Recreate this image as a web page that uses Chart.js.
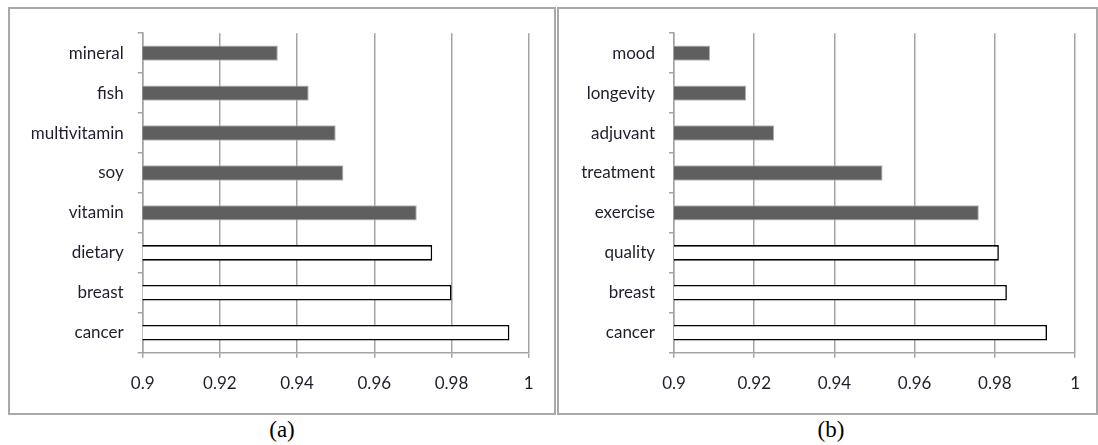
<!DOCTYPE html>
<html>
<head>
<meta charset="utf-8">
<script src="https://cdn.jsdelivr.net/npm/chart.js@4.4.1/dist/chart.umd.min.js"></script>
<style>
  html, body { margin: 0; padding: 0; background: #ffffff; }
  body { width: 1098px; height: 445px; position: relative; overflow: hidden; }
  .panel { position: absolute; box-sizing: border-box; border: 2px solid #a9a9a9; }
  .cv { position: absolute; }
  .cap { position: absolute; font-family: "Liberation Serif", "DejaVu Serif", serif; font-size: 23px; color: #000; transform: translateX(-50%); white-space: nowrap; }
</style>
</head>
<body>
<div class="panel" style="left:8px; top:7px; width:548px; height:408px;"></div>
<div class="panel" style="left:557px; top:7px; width:541px; height:408px;"></div>
<div class="cv" style="left:10px; top:9px; width:544px; height:404px;"><canvas id="chartA"></canvas></div>
<div class="cv" style="left:559px; top:9px; width:537px; height:404px;"><canvas id="chartB"></canvas></div>
<div class="cap" style="left:282px; top:417px;">(a)</div>
<div class="cap" style="left:831px; top:417px;">(b)</div>
<script>
// ---- data ----
const termsA = ['mineral', 'fish', 'multivitamin', 'soy', 'vitamin', 'dietary', 'breast', 'cancer'];
const expansionA = [0.935, 0.943, 0.950, 0.952, 0.971, null, null, null];
const queryA = [null, null, null, null, null, 0.975, 0.980, 0.995];

const termsB = ['mood', 'longevity', 'adjuvant', 'treatment', 'exercise', 'quality', 'breast', 'cancer'];
const expansionB = [0.909, 0.918, 0.925, 0.952, 0.976, null, null, null];
const queryB = [null, null, null, null, null, 0.981, 0.983, 0.993];

const xTicks = [0.9, 0.92, 0.94, 0.96, 0.98, 1];

const FONT = 'Lato, "Open Sans", sans-serif';
const GRID = '#a3a3a3';

function makeChart(id, labels, exp, qry, yWidth, pad) {
  new Chart(document.getElementById(id), {
    type: 'bar',
    data: {
      labels: labels,
      datasets: [
        { label: 'expansion', data: exp, backgroundColor: '#5f5f5f', borderColor: '#b4b4b4', borderWidth: 1, grouped: false, categoryPercentage: 1, barPercentage: 0.385 },
        { label: 'query', data: qry, backgroundColor: '#ffffff', borderColor: '#000000', borderWidth: 1.6, grouped: false, categoryPercentage: 1, barPercentage: 0.39 }
      ]
    },
    options: {
      indexAxis: 'y',
      responsive: true,
      maintainAspectRatio: false,
      animation: false,
      layout: { padding: pad },
      plugins: { legend: { display: false }, tooltip: { enabled: false } },
      scales: {
        x: {
          type: 'linear',
          min: 0.9, max: 1,
          afterBuildTicks: (s) => { s.ticks = xTicks.map(v => ({ value: v })); },
          afterFit: (s) => { s.height = 50; },
          grid: { color: GRID, lineWidth: 1.5, tickLength: 5, drawTicks: true },
          border: { color: GRID, width: 1.5 },
          ticks: { font: { family: FONT, size: 17 }, color: '#1e1e2e', padding: 16, maxRotation: 0,
                   callback: (v) => String(Math.round(v * 100) / 100) }
        },
        y: {
          type: 'category',
          afterFit: (s) => { s.width = yWidth; },
          grid: { drawOnChartArea: false, color: GRID, lineWidth: 1.5, tickLength: 5, offset: true },
          border: { color: GRID, width: 1.5 },
          ticks: { font: { family: FONT, size: 17 }, color: '#1e1e2e', padding: 14 }
        }
      }
    }
  });
}

makeChart('chartA', termsA, expansionA, queryA, 132.7, { left: 0, right: 25.3, top: 19.7, bottom: 10.3 });
makeChart('chartB', termsB, expansionB, queryB, 115, { left: 0, right: 16.7, top: 19.7, bottom: 10.3 });
</script>
</body>
</html>
